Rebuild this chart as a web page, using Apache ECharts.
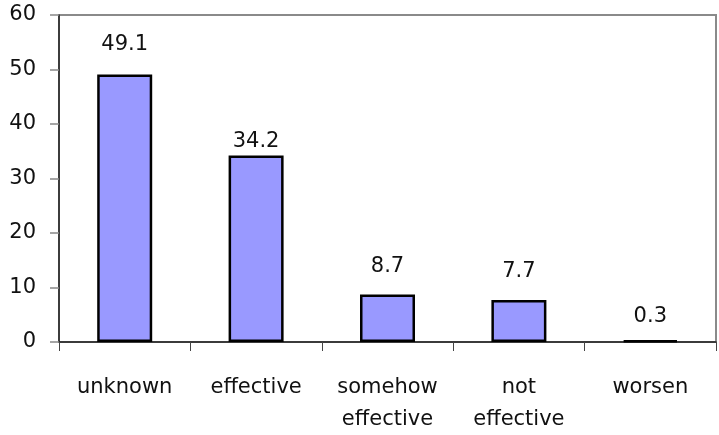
<!DOCTYPE html>
<html><head><meta charset="utf-8">
<script src="https://cdn.jsdelivr.net/npm/echarts@6/dist/echarts.min.js"></script>
<style>html,body{margin:0;padding:0;background:#fff}#c{width:719px;height:435px}</style>
</head><body><div id="c"></div>
<script>
const categories = ['unknown', 'effective', 'somehow\neffective', 'not\neffective', 'worsen'];
const values = [49.1, 34.2, 8.7, 7.7, 0.3];
const yTicks = [0, 10, 20, 30, 40, 50, 60];

// label placement (style only, not data)
const labelDistance = [19, 4, 18, 18, 13];

const FONT = 'DejaVu Sans';
const chart = echarts.init(document.getElementById('c'), null, {renderer: 'canvas'});
chart.setOption({
  animation: false,
  backgroundColor: '#fff',
  grid: {left: 59, right: 3, top: 15, bottom: 93, outerBoundsMode: 'none', containLabel: false,
         show: true, borderColor: '#8a8a8a', borderWidth: 2, backgroundColor: 'transparent'},
  xAxis: {
    type: 'category',
    data: categories,
    axisLine: {lineStyle: {color: '#222', width: 1.5}},
    axisTick: {show: true, length: 9, alignWithLabel: false, lineStyle: {color: '#444', width: 1}},
    axisLabel: {fontFamily: FONT, fontSize: 21, color: '#111', margin: 30, lineHeight: 32, interval: 0}
  },
  yAxis: {
    type: 'value',
    min: yTicks[0], max: yTicks[yTicks.length - 1], interval: 10,
    axisLine: {show: true, lineStyle: {color: '#222', width: 1.5}},
    axisTick: {show: true, length: 9, lineStyle: {color: '#888', width: 1.5}},
    splitLine: {show: false},
    axisLabel: {fontFamily: FONT, fontSize: 21, color: '#111', margin: 23}
  },
  series: [{
    type: 'bar',
    barWidth: 55,
    data: values.map((v, i) => ({value: v, label: {distance: labelDistance[i]}})),
    itemStyle: {color: '#9999FF', borderColor: '#000', borderWidth: 2.5},
    label: {show: true, position: 'top', fontFamily: FONT, fontSize: 21, color: '#111'}
  }]
});
</script>
</body></html>
